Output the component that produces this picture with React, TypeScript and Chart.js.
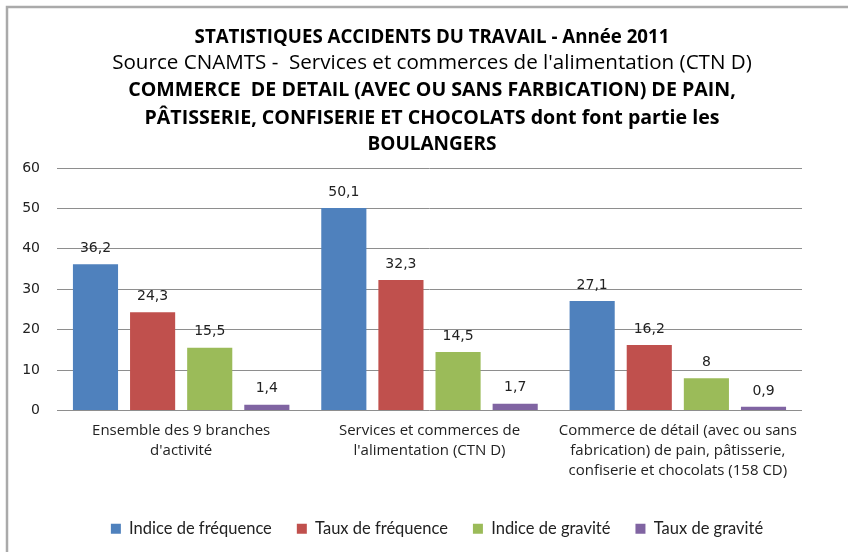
import React, { useEffect, useRef } from "react";
import { Chart, registerables } from "chart.js";

Chart.register(...registerables);

const categories: string[][] = [
  ["Ensemble des 9 branches", "d'activité"],
  ["Services et commerces de", "l'alimentation (CTN D)"],
  ["Commerce de détail (avec ou sans", "fabrication) de pain, pâtisserie,", "confiserie et chocolats (158 CD)"],
];
const indiceFrequence = [36.2, 50.1, 27.1];
const tauxFrequence = [24.3, 32.3, 16.2];
const indiceGravite = [15.5, 14.5, 8];
const tauxGravite = [1.4, 1.7, 0.9];
const seriesNames = ["Indice de fréquence", "Taux de fréquence", "Indice de gravité", "Taux de gravité"];
const yTicks = [0, 10, 20, 30, 40, 50, 60];
const titleLines = [
  { text: "STATISTIQUES ACCIDENTS DU TRAVAIL - Année 2011", bold: true, size: 18.7 },
  { text: "Source CNAMTS -  Services et commerces de l'alimentation (CTN D)", bold: false, size: 20.6 },
  { text: "COMMERCE  DE DETAIL (AVEC OU SANS FARBICATION) DE PAIN,", bold: true, size: 19.6 },
  { text: "PÂTISSERIE, CONFISERIE ET CHOCOLATS dont font partie les", bold: true, size: 19.6 },
  { text: "BOULANGERS", bold: true, size: 19 },
];

const colors = ["#4F81BD", "#C0504D", "#9BBB59", "#8064A2"];

const decorPlugin = {
  id: "decor",
  beforeDraw(chart: any) {
    const ctx = chart.ctx;
    ctx.save();
    ctx.fillStyle = "#ffffff";
    ctx.fillRect(0, 0, chart.width, chart.height);
    ctx.strokeStyle = "#aaaaaa";
    ctx.lineWidth = 2.5;
    ctx.beginPath();
    ctx.moveTo(7, chart.height);
    ctx.lineTo(7, 7);
    ctx.lineTo(chart.width, 7);
    ctx.stroke();
    ctx.restore();
  },
  afterDraw(chart: any) {
    const ctx = chart.ctx;
    ctx.save();
    ctx.fillStyle = "#000000";
    ctx.textAlign = "center";
    ctx.textBaseline = "middle";
    const ys = [38, 63, 90, 118, 145];
    titleLines.forEach((l, i) => {
      ctx.font = (l.bold ? "bold " : "") + l.size + "px 'Open Sans'";
      ctx.fillText(l.text, 432, ys[i]);
    });
    ctx.restore();
  },
};

const legendShiftPlugin = {
  id: "legendShift",
  afterLayout(chart: any) {
    if (chart.legend) {
      chart.legend.left += 36;
      chart.legend.right += 36;
    }
  },
};

const labelPlugin = {
  id: "valueLabels",
  afterDatasetsDraw(chart: any) {
    const ctx = chart.ctx;
    ctx.save();
    ctx.fillStyle = "#222222";
    ctx.font = "14px 'DejaVu Sans'";
    ctx.textAlign = "center";
    ctx.textBaseline = "bottom";
    chart.data.datasets.forEach((ds: any, di: number) => {
      const meta = chart.getDatasetMeta(di);
      meta.data.forEach((el: any, i: number) => {
        const v = ds.data[i];
        ctx.fillText(String(v).replace(".", ","), el.x, el.y - 9);
      });
    });
    ctx.restore();
  },
};

export default function App() {
  const ref = useRef<HTMLCanvasElement>(null);
  useEffect(() => {
    document.body.style.margin = "0";
    const seriesData = [indiceFrequence, tauxFrequence, indiceGravite, tauxGravite];
    const chart = new Chart(ref.current!, {
      type: "bar",
      data: {
        labels: categories,
        datasets: seriesData.map((d, i) => ({
          label: seriesNames[i],
          data: d,
          backgroundColor: colors[i],
          borderWidth: 0,
          categoryPercentage: 0.92,
          barPercentage: 0.79,
        })),
      },
      options: {
        responsive: false,
        animation: false,
        layout: { padding: { top: 168, right: 46, left: 0, bottom: 5 } },
        plugins: {
          title: { display: false },
          tooltip: { enabled: false },
          legend: {
            position: "bottom",
            labels: {
              boxWidth: 10,
              boxHeight: 10,
              padding: 25,
              color: "#222",
              font: { family: "Lato", size: 16.5 },
            },
          },
        },
        scales: {
          x: {
            grid: { display: false },
            border: { display: false },
            ticks: {
              color: "#222",
              font: { family: "Open Sans", size: 15, lineHeight: 1.33 },
              padding: 2,
              maxRotation: 0,
              autoSkip: false,
            },
            afterFit(scale: any) {
              scale.height = 85;
            },
          },
          y: {
            min: 0,
            max: 60,
            afterBuildTicks(scale: any) {
              scale.ticks = yTicks.map((v) => ({ value: v }));
            },
            grid: { color: "#8e8e8e", drawTicks: false, lineWidth: 1 },
            border: { display: false },
            ticks: {
              color: "#222",
              font: { family: "DejaVu Sans", size: 14 },
              padding: 17,
            },
            afterFit(scale: any) {
              scale.width = 57;
            },
          },
        },
      },
      plugins: [decorPlugin, labelPlugin, legendShiftPlugin],
    });
    return () => chart.destroy();
  }, []);
  return (
    <div style={{ width: 848, height: 552 }}>
      <canvas ref={ref} width={848} height={552} />
    </div>
  );
}
